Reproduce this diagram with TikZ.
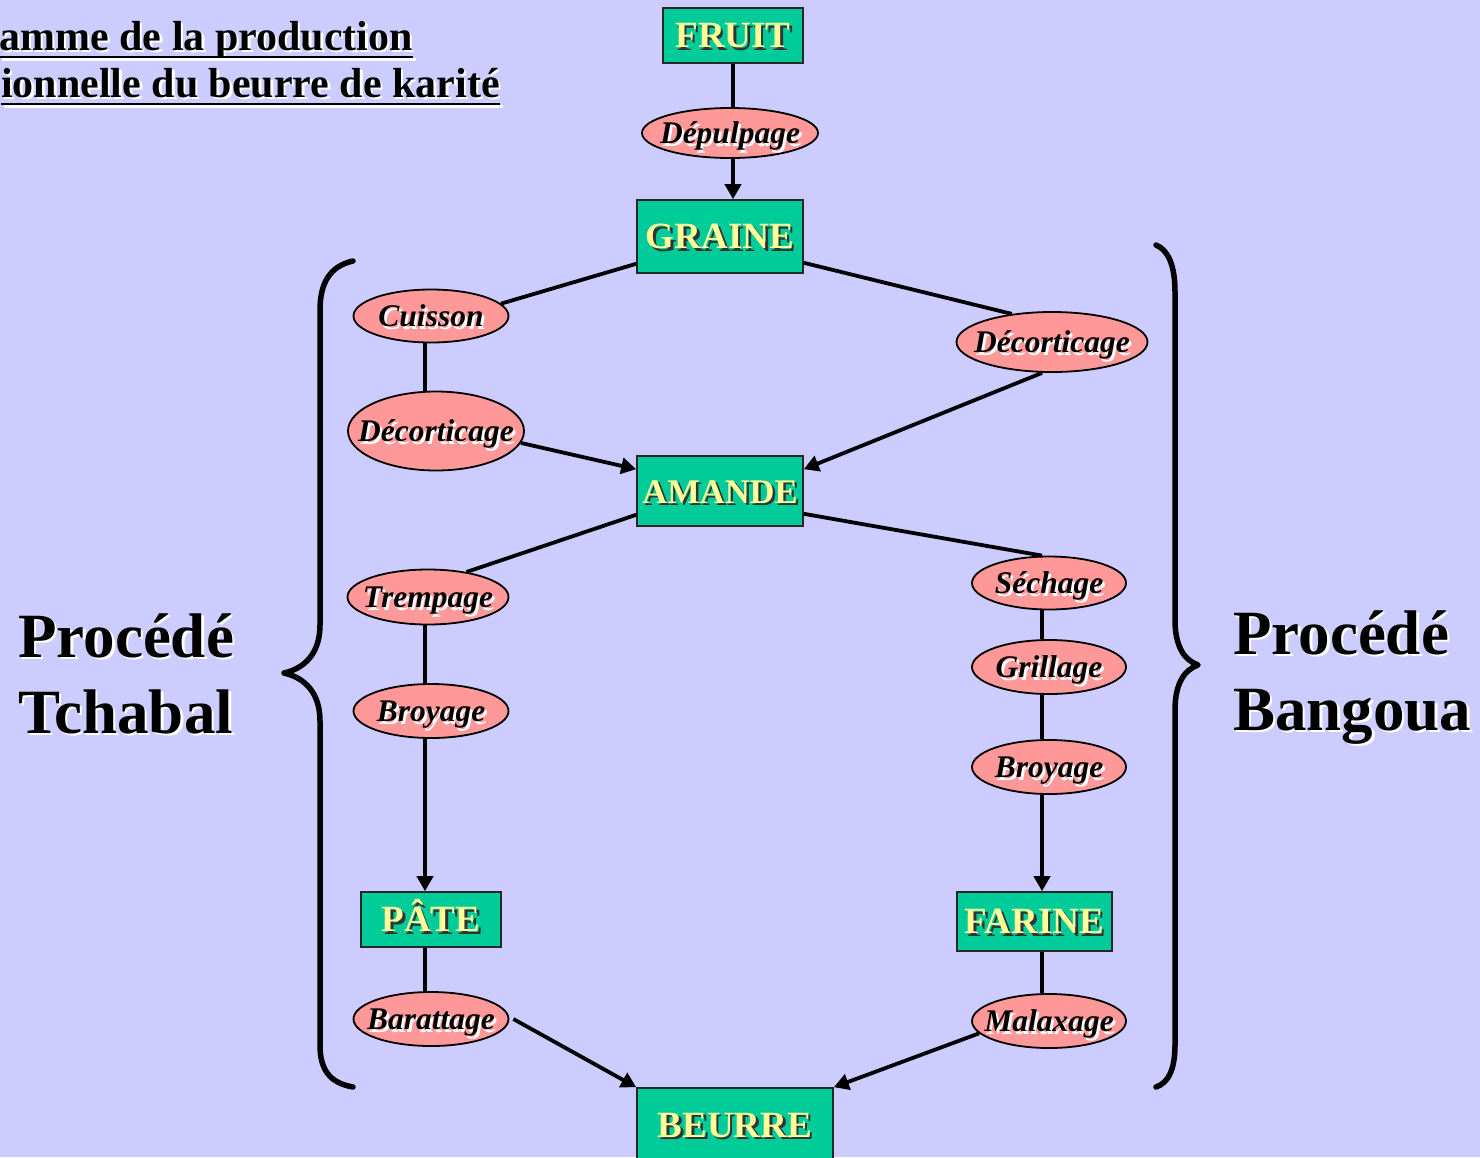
\documentclass[tikz,border=0pt]{standalone}
\usepackage{fontspec}
\setmainfont{Liberation Serif}
\usetikzlibrary{shapes.geometric,arrows.meta}
\definecolor{bg}{HTML}{CCCCFF}
\definecolor{boxgreen}{HTML}{00CC99}
\definecolor{boxtext}{HTML}{FFFF99}
\definecolor{ovalfill}{HTML}{FF9999}
% text with a drop shadow in colour #1
\newcommand\shtxt[2]{\leavevmode\rlap{\kern2.5pt\raisebox{-2.5pt}{\color{#1}#2}}#2}
\begin{document}
\begin{tikzpicture}[x=1pt,y=-1pt,
  stage/.style={draw=black!85, line width=1.6pt, fill=boxgreen, inner sep=0pt,
    text=boxtext, text height=26pt, text depth=1.5pt,
    font=\fontsize{37}{40}\selectfont\bfseries},
  oper/.style={ellipse, draw=black, line width=1.8pt, fill=ovalfill, inner sep=0pt,
    text height=24pt, text depth=3pt,
    font=\fontsize{31.5}{34}\selectfont\bfseries\itshape},
  link/.style={line width=3.8pt},
  flow/.style={line width=3.8pt, -{Triangle[length=15pt,width=16pt]}},
  bracket/.style={line width=5.5pt, line cap=round, line join=round},
  heading/.style={inner sep=0pt, font=\fontsize{42}{47}\selectfont\bfseries},
  process/.style={inner sep=0pt, font=\fontsize{63}{76}\selectfont\bfseries},
]
\fill[bg] (0,0) rectangle (1480,1157);
\useasboundingbox (0,0) rectangle (1480,1157);

% title
\node[heading, anchor=base east] (title1) at (413,50) {\shtxt{white}{amme de la production}};
\node[heading, anchor=base east] (title2) at (500,97) {\shtxt{white}{ionnelle du beurre de karité}};
\foreach \t in {title1,title2}{
  \draw[white, line width=2.8pt] ([xshift=2.5pt,yshift=-9.5pt]\t.base west) -- ([xshift=2.5pt,yshift=-9.5pt]\t.base east);
  \draw[black, line width=2.8pt] ([yshift=-7pt]\t.base west) -- ([yshift=-7pt]\t.base east);
}

% column guides for the vertical links
\coordinate (colL) at (425,0);
\coordinate (colR) at (1042,0);
\coordinate (colM) at (733,0);

% products
\node[stage, minimum width=140pt, minimum height=55pt] (fruit)  at (733,35.5)   {\makebox[0pt]{\shtxt{black!80}{FRUIT}}};
\node[stage, minimum width=166pt, minimum height=73pt] (graine) at (720,236.5)  {\makebox[0pt]{\shtxt{black!80}{GRAINE}}};
\node[stage, minimum width=166pt, minimum height=70pt, font=\fontsize{34.5}{38}\selectfont\bfseries] (amande) at (720,491) {\makebox[0pt]{\shtxt{black!80}{AMANDE}}};
\node[stage, minimum width=140pt, minimum height=55pt] (pate)   at (431,919.5)  {\makebox[0pt]{\shtxt{black!80}{PÂTE}}};
\node[stage, minimum width=155pt, minimum height=59pt] (farine) at (1034.5,921.5) {\makebox[0pt]{\shtxt{black!80}{FARINE}}};
\node[stage, minimum width=196pt, minimum height=74pt] (beurre) at (735,1125)   {\makebox[0pt]{\shtxt{black!80}{BEURRE}}};

% operations
\node[oper, minimum width=176pt, minimum height=50pt] (depulpage) at (730,133)  {\makebox[0pt]{\shtxt{white}{Dépulpage}}};
\node[oper, minimum width=155pt, minimum height=53pt] (cuisson)   at (431,316)  {\makebox[0pt]{\shtxt{white}{Cuisson}}};
\node[oper, minimum width=176pt, minimum height=79pt] (decL)      at (436,431)  {\makebox[0pt]{\shtxt{white}{Décorticage}}};
\node[oper, minimum width=191pt, minimum height=60pt] (decR)      at (1052,342) {\makebox[0pt]{\shtxt{white}{Décorticage}}};
\node[oper, minimum width=161pt, minimum height=55pt] (trempage)  at (428,597)  {\makebox[0pt]{\shtxt{white}{Trempage}}};
\node[oper, minimum width=155pt, minimum height=54pt] (broyL)     at (431,711)  {\makebox[0pt]{\shtxt{white}{Broyage}}};
\node[oper, minimum width=154pt, minimum height=53pt] (sechage)   at (1049,583) {\makebox[0pt]{\shtxt{white}{Séchage}}};
\node[oper, minimum width=154pt, minimum height=54pt] (grillage)  at (1049,667) {\makebox[0pt]{\shtxt{white}{Grillage}}};
\node[oper, minimum width=154pt, minimum height=54pt] (broyR)     at (1049,767) {\makebox[0pt]{\shtxt{white}{Broyage}}};
\node[oper, minimum width=155pt, minimum height=54pt] (barattage) at (431,1019) {\makebox[0pt]{\shtxt{white}{Barattage}}};
\node[oper, minimum width=154pt, minimum height=54pt] (malaxage)  at (1049,1021) {\makebox[0pt]{\shtxt{white}{Malaxage}}};

% main trunk
\draw[link] (fruit.south -| colM) -- (depulpage.north -| colM);
\draw[flow] (depulpage.south -| colM) -- (graine.north -| colM);

% Tchabal branch
\draw[link] ([yshift=10pt]graine.south west) -- (cuisson.10);
\draw[link] (cuisson.south -| colL) -- (decL.north -| colL);
\draw[flow] (decL.-8) -- ([yshift=-14pt]amande.north west);
\draw[link] ([yshift=12pt]amande.south west) -- (trempage.33);
\draw[link] (trempage.south -| colL) -- (broyL.north -| colL);
\draw[flow] (broyL.south -| colL) -- (pate.north -| colL);
\draw[link] (pate.south -| colL) -- (barattage.north -| colL);
\draw[flow] ([xshift=4pt]barattage.east) -- (beurre.north west);

% Bangoua branch
\draw[link] ([yshift=11pt]graine.south east) -- (decR.145);
\draw[flow] (decR.south -| colR) -- ([yshift=-14pt]amande.north east);
\draw[link] ([yshift=13pt]amande.south east) -- (sechage.north -| colR);
\draw[link] (sechage.south -| colR) -- (grillage.north -| colR);
\draw[link] (grillage.south -| colR) -- (broyR.north -| colR);
\draw[flow] (broyR.south -| colR) -- (farine.north -| colR);
\draw[link] (farine.south -| colR) -- (malaxage.north -| colR);
\draw[flow] (malaxage.190) -- (beurre.north east);

% braces
\draw[bracket] (353,261) .. controls (330,266) and (320,283) .. (320,310)
  -- (320,625) .. controls (320,652) and (306,668) .. (284,673)
  .. controls (306,678) and (320,694) .. (320,721)
  -- (320,1045) .. controls (320,1070) and (330,1083) .. (353,1087);
\draw[bracket] (1156,245) .. controls (1168,250) and (1175,265) .. (1175,292)
  -- (1175,620) .. controls (1175,646) and (1184,660) .. (1198,665)
  .. controls (1184,670) and (1175,684) .. (1175,710)
  -- (1175,1045) .. controls (1175,1070) and (1168,1083) .. (1156,1087);

% process names
\node[process, anchor=base west] (tch1) at (18,657) {\shtxt{white}{Procédé}};
\node[process, anchor=base west] (tch2) at (18,733) {\shtxt{white}{Tchabal}};
\node[process, anchor=base west] (ban1) at (1233,654) {\shtxt{white}{Procédé}};
\node[process, anchor=base west] (ban2) at (1233,730) {\shtxt{white}{Bangoua}};
\end{tikzpicture}
\end{document}
